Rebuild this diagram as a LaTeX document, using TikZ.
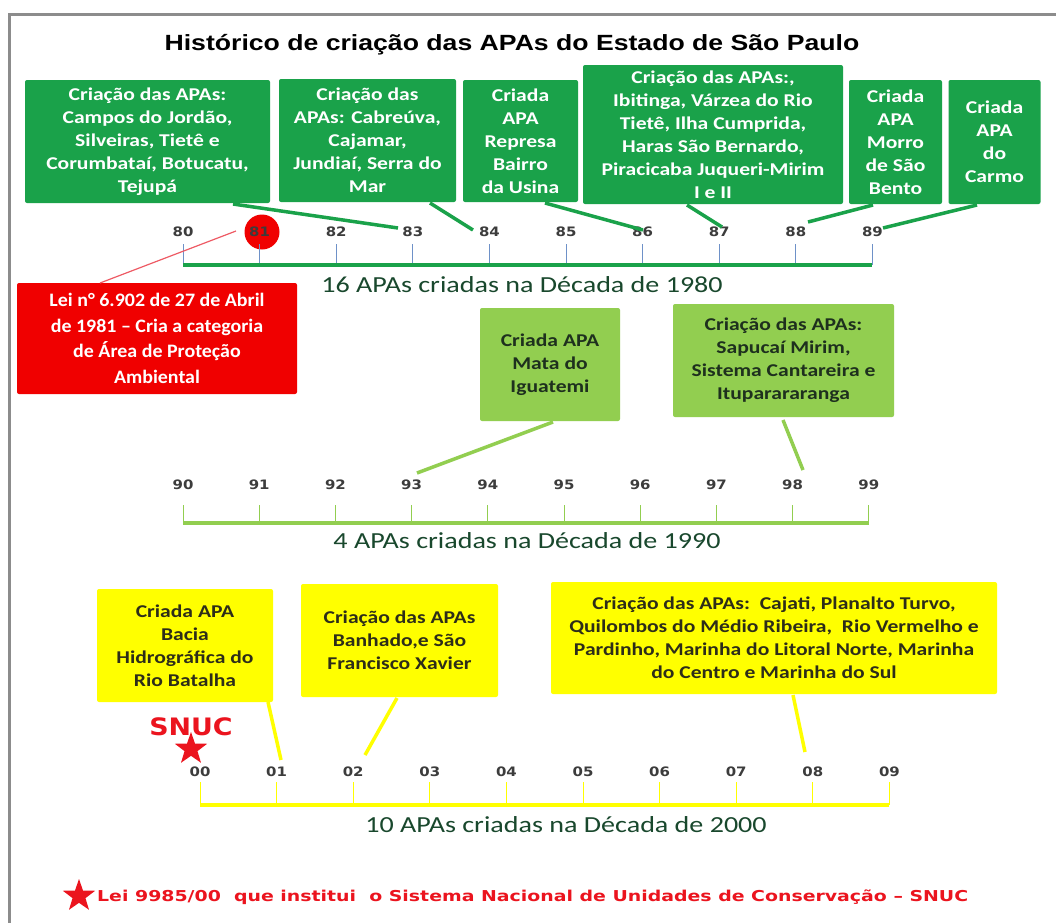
\documentclass[tikz,border=0pt]{standalone}
\usepackage{fontspec}
\setmainfont{Carlito}[FakeStretch=1.2]
\newfontfamily\redfont{Carlito}[FakeStretch=1.05]
\newfontfamily\declfont{Carlito}[FakeStretch=1.22]
\newfontfamily\titlefont{Liberation Sans}[FakeStretch=1.21]
\newfontfamily\numfont{DejaVu Sans}[FakeStretch=1.15]
\newfontfamily\footfont{DejaVu Sans}[FakeStretch=1.26]
\newfontfamily\snucfont{DejaVu Sans}[FakeStretch=1.12]
\usetikzlibrary{shapes.geometric}
\definecolor{dkgreen}{RGB}{26,162,74}
\definecolor{ltgreen}{RGB}{146,206,80}
\definecolor{yel}{RGB}{255,255,0}
\definecolor{redbox}{RGB}{240,0,0}
\definecolor{redline}{RGB}{238,90,100}
\definecolor{tickblue}{RGB}{110,145,200}
\definecolor{declabel}{RGB}{25,72,45}
\definecolor{ltgtext}{RGB}{30,48,30}
\definecolor{yeltext}{RGB}{45,45,25}
\definecolor{numgray}{RGB}{60,60,60}
\definecolor{snucred}{RGB}{235,20,30}
\begin{document}
\begin{tikzpicture}[x=1pt,y=-1pt,
  box/.style={rounded corners=2pt, inner sep=0pt, align=center,
     font=\fontsize{18}{23}\selectfont\bfseries},
  gbox/.style={box, fill=dkgreen, text=white},
  lbox/.style={box, fill=ltgreen, text=ltgtext},
  ybox/.style={box, fill=yel, text=yeltext},
  gcon/.style={dkgreen, line width=3.5pt},
  lcon/.style={ltgreen, line width=3.5pt},
  ycon/.style={yel, line width=3.5pt},
  yearlbl/.style={font=\numfont\bfseries\fontsize{13}{15}\selectfont, text=numgray, inner sep=0pt},
  declbl/.style={font=\declfont\fontsize{23}{26}\selectfont, text=declabel, inner sep=0pt},
  redstar/.style={star, star points=5, star point ratio=2.5, fill=snucred, inner sep=0pt, minimum size=34pt}
]
\useasboundingbox (0,0) rectangle (1056,922);
\fill[white] (0,0) rectangle (1056,922);
\draw[gray!90, line width=3pt] (9,14) rectangle (1090,950);

% title
\node[font=\titlefont\bfseries\fontsize{22}{26}\selectfont, inner sep=0pt] (title) at (512,45) {Histórico de criação das APAs do Estado de São Paulo};

% ---------- 1980s ----------
\node[gbox, minimum width=245pt, minimum height=123pt] (b1) at (147.5,141.5)
  {Criação das APAs:\\Campos do Jordão,\\Silveiras, Tietê e\\Corumbataí, Botucatu,\\Tejupá};
\node[gbox, minimum width=177pt, minimum height=123pt] (b2) at (367.5,140.5)
  {Criação das\\APAs: Cabreúva,\\Cajamar,\\Jundiaí, Serra do\\Mar};
\node[gbox, minimum width=115pt, minimum height=122pt] (b3) at (520.5,141)
  {Criada\\APA\\Represa\\Bairro\\da Usina};
\node[gbox, minimum width=260pt, minimum height=139pt] (b4) at (713,134.5)
  {Criação das APAs:,\\Ibitinga, Várzea do Rio\\Tietê, Ilha Cumprida,\\Haras São Bernardo,\\Piracicaba Juqueri-Mirim\\I e II};
\node[gbox, minimum width=93pt, minimum height=124pt] (b5) at (895.5,142)
  {Criada\\APA\\Morro\\de São\\Bento};
\node[gbox, minimum width=92pt, minimum height=124pt] (b6) at (994.5,142)
  {Criada\\APA\\do\\Carmo};

% red circle for 81
\node[circle, fill=redbox, minimum size=35pt, inner sep=0pt] (c81) at (262,232) {};

\foreach \i in {0,...,9} {
  \pgfmathsetmacro\xx{183+76.6*\i}
  \draw[tickblue, line width=1pt] (\xx,244) -- (\xx,265);
  \node[yearlbl] (y8\i) at (\xx,232) {8\i};
}
\draw[dkgreen, line width=4pt] (183,265) -- (872,265);

\coordinate (k1a) at (233,204); \coordinate (k1b) at (398,228);
\coordinate (k2a) at (430,203); \coordinate (k2b) at (473,230);
\coordinate (k3a) at (545,203); \coordinate (k3b) at (643,230);
\coordinate (k4a) at (687,205); \coordinate (k4b) at (722,227);
\coordinate (k5a) at (873,205); \coordinate (k5b) at (808,222);
\coordinate (k6a) at (977,205); \coordinate (k6b) at (883,228);
\draw[gcon] (k1a) -- (k1b);
\draw[gcon] (k2a) -- (k2b);
\draw[gcon] (k3a) -- (k3b);
\draw[gcon] (k4a) -- (k4b);
\draw[gcon] (k5a) -- (k5b);
\draw[gcon] (k6a) -- (k6b);

\node[declbl] (d80) at (522,285) {16 APAs criadas na Década de 1980};

% red law box
\node[rounded corners=2pt, fill=redbox, text=white, inner sep=0pt, align=center,
  minimum width=280pt, minimum height=111pt,
  font=\redfont\fontsize{19}{25.5}\selectfont\bfseries] (lei) at (157,338.5)
  {Lei n° 6.902 de 27 de Abril\\de 1981 – Cria a categoria\\de Área de Proteção\\Ambiental};
\coordinate (r1) at (236,231);
\coordinate (r2) at (100,283);
\draw[redline, line width=1.2pt] (r1) -- (r2);

% ---------- 1990s ----------
\node[lbox, minimum width=140pt, minimum height=113pt] (ba) at (550,364.5)
  {Criada APA\\Mata do\\Iguatemi};
\node[lbox, minimum width=221pt, minimum height=113pt] (bb) at (783.5,360.5)
  {Criação das APAs:\\Sapucaí Mirim,\\Sistema Cantareira e\\Ituparararanga};

\foreach \i in {0,...,9} {
  \pgfmathsetmacro\xx{183+76.2*\i}
  \draw[ltgreen, line width=1pt] (\xx,505) -- (\xx,523);
  \node[yearlbl] (y9\i) at (\xx,485) {9\i};
}
\draw[ltgreen, line width=4pt] (183,523) -- (869,523);
\coordinate (ka1) at (553,422); \coordinate (ka2) at (417,473);
\coordinate (kb1) at (783,420); \coordinate (kb2) at (803,470);
\draw[lcon] (ka1) -- (ka2);
\draw[lcon] (kb1) -- (kb2);
\node[declbl] (d90) at (527,541) {4 APAs criadas na Década de 1990};

% ---------- 2000s ----------
\node[ybox, minimum width=176pt, minimum height=113pt] (bc) at (185,645.5)
  {Criada APA\\Bacia\\Hidrográfica do\\Rio Batalha};
\node[ybox, minimum width=197pt, minimum height=113pt] (bd) at (399.5,640.5)
  {Criação das APAs\\Banhado,e São\\Francisco Xavier};
\node[ybox, minimum width=446pt, minimum height=112pt] (be) at (774,638)
  {Criação das APAs:\ \ Cajati, Planalto Turvo,\\Quilombos do Médio Ribeira,\ \ Rio Vermelho e\\Pardinho, Marinha do Litoral Norte, Marinha\\do Centro e Marinha do Sul};

\foreach \i in {0,...,9} {
  \pgfmathsetmacro\xx{200+76.6*\i}
  \draw[yel, line width=1pt] (\xx,782) -- (\xx,805);
  \node[yearlbl] (y0\i) at (\xx,772) {0\i};
}
\draw[yel, line width=4pt] (200,805) -- (889,805);
\coordinate (kc1) at (268,702); \coordinate (kc2) at (281,760);
\coordinate (kd1) at (397,698); \coordinate (kd2) at (365,755);
\coordinate (ke1) at (793,695); \coordinate (ke2) at (805,752);
\draw[ycon] (kc1) -- (kc2);
\draw[ycon] (kd1) -- (kd2);
\draw[ycon] (ke1) -- (ke2);
\node[declbl] (d00) at (566,825) {10 APAs criadas na Década de 2000};

% SNUC
\node[font=\snucfont\bfseries\fontsize{24}{26}\selectfont, text=snucred, inner sep=0pt] (snuc) at (191,727) {SNUC};
\node[redstar] (star1) at (191,749) {};

% footer
\node[redstar] (star2) at (79,896) {};
\node[anchor=west, font=\footfont\bfseries\fontsize{15}{18}\selectfont, text=snucred, inner sep=0pt] (foot) at (97,897)
  {Lei 9985/00\ \ que institui\ \ o Sistema Nacional de Unidades de Conservação – SNUC};
\end{tikzpicture}
\end{document}
